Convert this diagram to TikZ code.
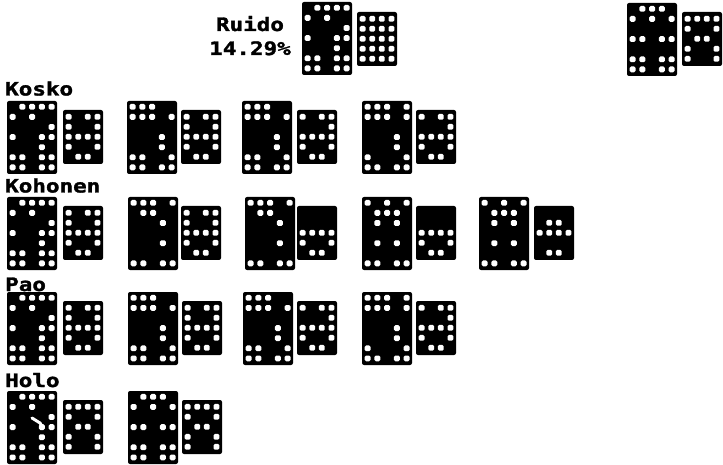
\documentclass[tikz,border=0pt]{standalone}
\usepackage{fontspec}
\newfontfamily\lblfont[BoldFeatures={FakeBold=1.6}]{DejaVu Sans Mono}
\begin{document}
\def\patA{2/1,3/1,4/1,5/1,1/2,3/2,5/3,1/4,4/4,5/4,4/5,1/6,2/6,4/6,5/6,1/7,2/7,4/7,5/7}
\def\patC{2/1,3/1,4/1,1/2,3/2,5/2,1/4,2/4,4/4,5/4,1/6,2/6,4/6,5/6,1/7,2/7,4/7,5/7}
\def\patKb{1/1,2/1,3/1,1/2,2/2,3/2,5/2,4/4,4/5,1/6,2/6,5/6,1/7,2/7,4/7,5/7}
\def\patKd{1/1,2/1,3/1,5/1,1/2,2/2,3/2,5/2,4/4,4/5,1/6,5/6,1/7,2/7,4/7,5/7}
\def\patHb{1/1,2/1,3/1,5/1,2/2,3/2,4/3,4/5,1/7,2/7,4/7,5/7}
\def\patHd{1/1,3/1,5/1,2/2,3/2,4/2,2/3,4/3,2/5,4/5,1/7,2/7,4/7,5/7}
\def\sA{1/1,3/1,4/1,1/2,4/2,1/3,2/3,3/3,4/3,1/4,4/4,2/5,3/5}
\def\sC{1/1,2/1,3/1,4/1,1/2,4/2,2/3,3/3,1/4,4/4,1/5,4/5}
\def\sKc{1/1,3/1,4/1,4/2,1/3,2/3,3/3,4/3,1/4,4/4,2/5,3/5}
\def\sHc{1/3,2/3,3/3,4/3,1/4,4/4,2/5,3/5}
\def\sHe{2/2,3/2,1/3,2/3,3/3,4/3,2/5,3/5}
\def\sAll{1/1,2/1,3/1,4/1,1/2,2/2,3/2,4/2,1/3,2/3,3/3,4/3,1/4,2/4,3/4,4/4,1/5,2/5,3/5,4/5}
\newcommand\bigblk[4]{%
  \node[blk, minimum width=50pt, minimum height=73pt] (#1) at (#2,#3) {};
  \foreach \c/\r in #4 {\fill[dotw] ([shift={({2.7+9.75*(\c-1)},{2.9+10.1*(\r-1)})}]#1.north west) rectangle +(5.8,5.8);}}
\newcommand\smallblk[4]{%
  \node[blk, minimum width=40pt, minimum height=54pt] (#1) at (#2,#3) {};
  \foreach \c/\r in #4 {\fill[dotw] ([shift={({2.7+9.6*(\c-1)},{3.9+10*(\r-1)})}]#1.north west) rectangle +(5.8,5.8);}}
\begin{tikzpicture}[x=1pt,y=-1pt,
  blk/.style={fill=black, rounded corners=2pt, inner sep=0pt, outer sep=0pt, anchor=north west},
  dotw/.style={fill=white, rounded corners=1.4pt},
  lbl/.style={font=\lblfont\bfseries\fontsize{18.5}{18.5}\selectfont, inner sep=0pt}]
\useasboundingbox (0,0) rectangle (723,465);
% labels
\node[lbl, anchor=base] (ruido) at (250,31) {\scalebox{1.22}[1]{Ruido}};
\node[lbl, anchor=base] (pct) at (250,55) {\scalebox{1.22}[1]{14.29\%}};
\node[lbl, anchor=base west] (kosko) at (5,95.5) {\scalebox{1.22}[1]{Kosko}};
\node[lbl, anchor=base west] (kohonen) at (5,192.5) {\scalebox{1.22}[1]{Kohonen}};
\node[lbl, anchor=base west] (pao) at (5,291) {\scalebox{1.22}[1]{Pao}};
\node[lbl, anchor=base west] (holo) at (5,387) {\scalebox{1.22}[1]{Holo}};
% top
\bigblk{rb}{302}{2}{\patA}
\smallblk{rs}{357}{12}{\sAll}
\bigblk{tb}{627}{3}{\patC}
\smallblk{ts}{682}{12}{\sC}
% Kosko
\bigblk{kab}{7}{101}{\patA}   \smallblk{kas}{63}{110}{\sA}
\bigblk{kbb}{127}{101}{\patKb} \smallblk{kbs}{181}{110}{\sA}
\bigblk{kcb}{242}{101}{\patKb} \smallblk{kcs}{297}{110}{\sKc}
\bigblk{kdb}{362}{101}{\patKd} \smallblk{kds}{416}{110}{\sKc}
% Kohonen
\bigblk{hab}{7}{197}{\patA}   \smallblk{has}{63}{206}{\sA}
\bigblk{hbb}{128}{197}{\patHb} \smallblk{hbs}{181}{206}{\sA}
\bigblk{hcb}{245}{197}{\patHb} \smallblk{hcs}{297}{206}{\sHc}
\bigblk{hdb}{362}{197}{\patHd} \smallblk{hds}{416}{206}{\sHc}
\bigblk{heb}{479}{197}{\patHd} \smallblk{hes}{534}{206}{\sHe}
% Pao
\bigblk{pab}{7}{292}{\patA}   \smallblk{pas}{63}{301}{\sA}
\bigblk{pbb}{128}{292}{\patKb} \smallblk{pbs}{182}{301}{\sA}
\bigblk{pcb}{243}{292}{\patKb} \smallblk{pcs}{297}{301}{\sKc}
\bigblk{pdb}{362}{292}{\patKd} \smallblk{pds}{416}{301}{\sKc}
% Holo
\bigblk{oab}{7}{391}{\patA}   \smallblk{oas}{63}{400}{\sC}
\bigblk{obb}{128}{391}{\patC}  \smallblk{obs}{182}{400}{\sC}
\draw[white, line width=3pt, line cap=round] ([shift={(25,27)}]oab.north west) -- ([shift={(33,32)}]oab.north west) -- ([shift={(35.5,36)}]oab.north west);
\end{tikzpicture}
\end{document}
